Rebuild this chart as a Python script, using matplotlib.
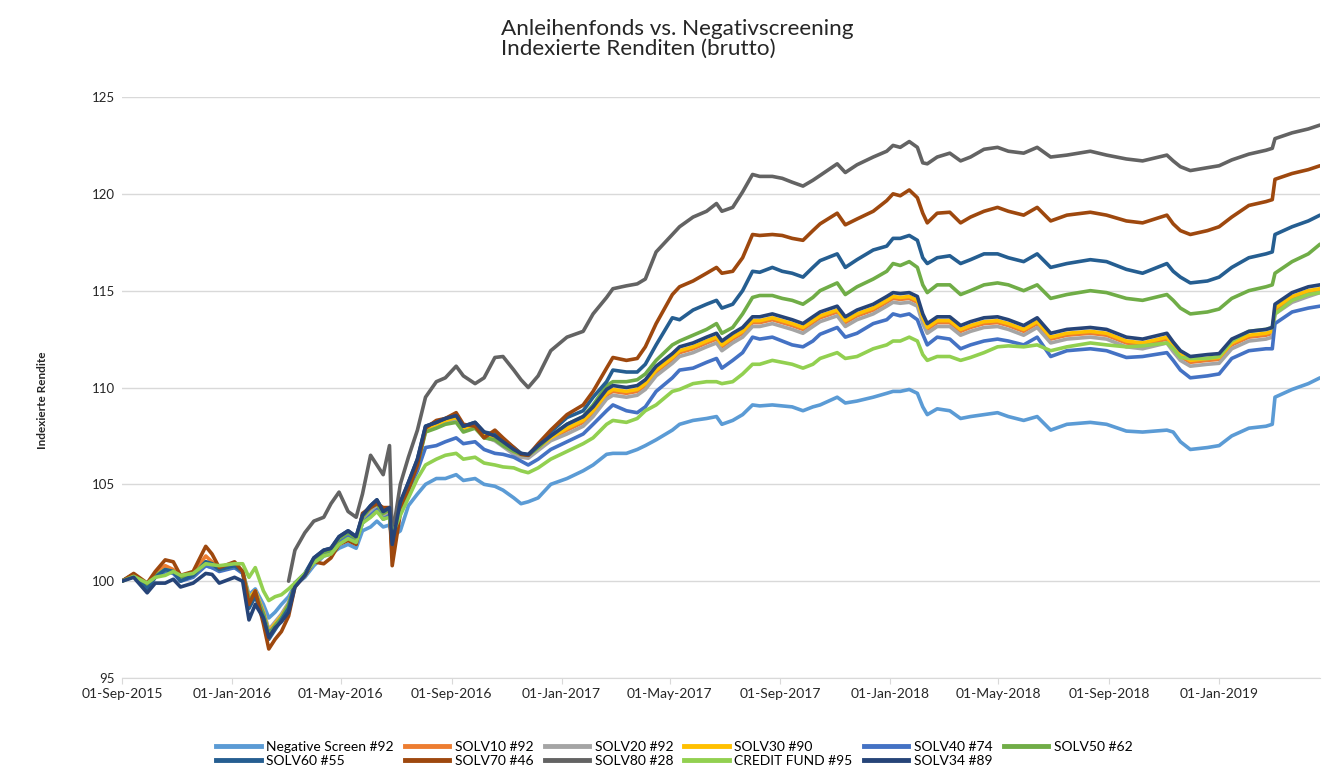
import numpy as np
import pandas as pd
import matplotlib
matplotlib.use("Agg")
import matplotlib.pyplot as plt
import matplotlib.dates as mdates
from matplotlib.lines import Line2D

plt.rcParams['font.family'] = ['Lato', 'DejaVu Sans']

# Stichtage (unregelmaessig)
dates = pd.to_datetime([
    "2015-09-01", "2015-09-14", "2015-09-29", "2015-10-08", "2015-10-19", "2015-10-28", "2015-11-05", "2015-11-19", "2015-12-03", "2015-12-10", "2015-12-18",
    "2016-01-04", "2016-01-13", "2016-01-20", "2016-01-27", "2016-02-05", "2016-02-11", "2016-02-18", "2016-02-25", "2016-03-04", "2016-03-11", "2016-03-22",
    "2016-04-01", "2016-04-12", "2016-04-20", "2016-04-29", "2016-05-09", "2016-05-18", "2016-05-25", "2016-06-03", "2016-06-10", "2016-06-17",
    "2016-06-24", "2016-06-27", "2016-07-06", "2016-07-15", "2016-07-25", "2016-08-03", "2016-08-15", "2016-08-25", "2016-09-06", "2016-09-14",
    "2016-09-27", "2016-10-07", "2016-10-19", "2016-10-28", "2016-11-09", "2016-11-17", "2016-11-25", "2016-12-06", "2016-12-20",
    "2017-01-07", "2017-01-25", "2017-02-05", "2017-02-20", "2017-02-27", "2017-03-14", "2017-03-26", "2017-04-04", "2017-04-16", "2017-05-04",
    "2017-05-12", "2017-05-27", "2017-06-11", "2017-06-22", "2017-06-28", "2017-07-10", "2017-07-21", "2017-08-01", "2017-08-09", "2017-08-23",
    "2017-09-03", "2017-09-14", "2017-09-26", "2017-10-07", "2017-10-15", "2017-11-03", "2017-11-12", "2017-11-25", "2017-12-13", "2017-12-28",
    "2018-01-04", "2018-01-12", "2018-01-22", "2018-01-31", "2018-02-06", "2018-02-11", "2018-02-22", "2018-03-08", "2018-03-20", "2018-03-31",
    "2018-04-15", "2018-04-30", "2018-05-12", "2018-05-29", "2018-06-13", "2018-06-28", "2018-07-16", "2018-08-11", "2018-08-29", "2018-09-20",
    "2018-10-08", "2018-11-04", "2018-11-11", "2018-11-19", "2018-11-30", "2018-12-19",
    "2019-01-01", "2019-01-15", "2019-02-03", "2019-02-22", "2019-03-01", "2019-03-04", "2019-03-23", "2019-04-10", "2019-04-23",
])

neg_screen = [
    100.0, 100.3, 99.8, 100.3, 100.5, 100.5, 100.1, 100.3, 100.8, 100.7, 100.6,
    100.7, 100.5, 99.3, 99.6, 98.8, 98.1, 98.4, 98.8, 99.2, 99.8, 100.2,
    100.8, 101.3, 101.4, 101.7, 101.9, 101.7, 102.6, 102.8, 103.1, 102.8,
    102.9, 102.3, 102.6, 103.9, 104.5, 105.0, 105.3, 105.3, 105.5, 105.2,
    105.3, 105.0, 104.9, 104.7, 104.3, 104.0, 104.1, 104.3, 105.0,
    105.3, 105.7, 106.0, 106.55, 106.6, 106.6, 106.8, 107.0, 107.3, 107.8,
    108.1, 108.3, 108.4, 108.5, 108.1, 108.3, 108.6, 109.1, 109.05, 109.1,
    109.05, 109.0, 108.8, 109.0, 109.1, 109.5, 109.2, 109.3, 109.5, 109.7,
    109.8, 109.8, 109.9, 109.7, 109.0, 108.6, 108.9, 108.8, 108.4, 108.5,
    108.6, 108.7, 108.5, 108.3, 108.5, 107.8, 108.1, 108.2, 108.1, 107.75,
    107.7, 107.8, 107.7, 107.2, 106.8, 106.9,
    107.0, 107.5, 107.9, 108.0, 108.1, 109.5, 109.9, 110.2, 110.5,
]

solv10 = [
    100.0, 100.35, 99.8, 100.4, 100.8, 100.6, 100.2, 100.4, 101.3, 101.0, 100.7,
    100.8, 100.5, 99.1, 99.5, 98.4, 97.3, 97.8, 98.2, 98.8, 99.9, 100.3,
    101.05, 101.45, 101.55, 102.15, 102.45, 102.15, 103.3, 103.75, 104.05, 103.5,
    103.65, 101.3, 103.95, 104.95, 106.15, 107.85, 108.05, 108.25, 108.4, 107.85,
    108.05, 107.55, 107.35, 107.05, 106.65, 106.5, 106.45, 106.85, 107.35,
    107.8, 108.2, 108.7, 109.6, 109.8, 109.7, 109.8, 110.1, 110.8, 111.45,
    111.8, 112.0, 112.3, 112.5, 112.1, 112.5, 112.8, 113.35, 113.35, 113.5,
    113.35, 113.2, 113.0, 113.35, 113.6, 113.9, 113.35, 113.7, 114.0, 114.4,
    114.6, 114.55, 114.6, 114.4, 113.5, 113.0, 113.35, 113.35, 112.9, 113.1,
    113.3, 113.35, 113.2, 112.9, 113.3, 112.5, 112.7, 112.8, 112.7, 112.3,
    112.2, 112.5, 112.05, 111.6, 111.3, 111.4,
    111.45, 112.2, 112.6, 112.7, 112.8, 114.0, 114.6, 114.9, 115.0,
]

solv20 = [
    100.0, 100.3, 99.8, 100.3, 100.6, 100.5, 100.1, 100.3, 100.9, 100.8, 100.6,
    100.8, 100.5, 99.1, 99.5, 98.5, 97.5, 97.9, 98.3, 98.9, 99.8, 100.3,
    100.95, 101.35, 101.45, 102.05, 102.35, 102.05, 103.15, 103.65, 103.95, 103.35,
    103.55, 101.9, 103.85, 104.85, 106.05, 107.75, 107.95, 108.15, 108.3, 107.75,
    107.95, 107.45, 107.25, 106.95, 106.55, 106.4, 106.35, 106.75, 107.25,
    107.6, 108.0, 108.5, 109.4, 109.6, 109.5, 109.6, 109.9, 110.6, 111.25,
    111.6, 111.8, 112.1, 112.3, 111.9, 112.3, 112.6, 113.15, 113.15, 113.3,
    113.15, 113.0, 112.8, 113.15, 113.4, 113.7, 113.15, 113.5, 113.8, 114.2,
    114.4, 114.35, 114.4, 114.2, 113.3, 112.8, 113.15, 113.15, 112.7, 112.9,
    113.1, 113.15, 113.0, 112.7, 113.1, 112.3, 112.5, 112.6, 112.5, 112.1,
    112.0, 112.3, 111.85, 111.4, 111.1, 111.2,
    111.25, 112.0, 112.4, 112.5, 112.6, 113.8, 114.4, 114.7, 114.9,
]

solv30 = [
    100.0, 100.3, 99.75, 100.3, 100.6, 100.5, 100.1, 100.3, 100.9, 100.8, 100.6,
    100.8, 100.5, 99.1, 99.5, 98.4, 97.4, 97.8, 98.2, 98.8, 99.8, 100.3,
    101.1, 101.5, 101.6, 102.2, 102.5, 102.2, 103.3, 103.8, 104.1, 103.5,
    103.7, 102.0, 104.0, 105.0, 106.2, 107.9, 108.1, 108.3, 108.45, 107.9,
    108.1, 107.6, 107.4, 107.1, 106.7, 106.55, 106.5, 106.9, 107.4,
    107.9, 108.3, 108.8, 109.7, 109.9, 109.8, 109.9, 110.2, 110.9, 111.55,
    111.9, 112.1, 112.4, 112.6, 112.2, 112.6, 112.9, 113.45, 113.45, 113.6,
    113.45, 113.3, 113.1, 113.45, 113.7, 114.0, 113.45, 113.8, 114.1, 114.5,
    114.7, 114.65, 114.7, 114.5, 113.6, 113.1, 113.45, 113.45, 113.0, 113.2,
    113.4, 113.45, 113.3, 113.0, 113.4, 112.6, 112.8, 112.9, 112.8, 112.4,
    112.3, 112.6, 112.15, 111.7, 111.4, 111.5,
    111.55, 112.3, 112.7, 112.8, 112.9, 114.1, 114.7, 115.0, 115.1,
]

solv40 = [
    100.0, 100.3, 99.7, 100.2, 100.5, 100.4, 100.0, 100.2, 100.8, 100.7, 100.5,
    100.7, 100.4, 99.0, 99.4, 98.3, 97.3, 97.7, 98.1, 98.7, 99.8, 100.3,
    101.0, 101.4, 101.5, 102.0, 102.3, 102.0, 103.0, 103.4, 103.7, 103.2,
    103.4, 101.9, 103.6, 104.7, 105.7, 106.9, 107.0, 107.2, 107.4, 107.1,
    107.2, 106.8, 106.6, 106.55, 106.4, 106.2, 106.0, 106.3, 106.8,
    107.2, 107.6, 108.1, 108.8, 109.1, 108.8, 108.7, 109.0, 109.8, 110.5,
    110.9, 111.0, 111.3, 111.5, 111.0, 111.4, 111.8, 112.6, 112.5, 112.6,
    112.4, 112.2, 112.1, 112.4, 112.75, 113.1, 112.6, 112.8, 113.3, 113.5,
    113.8, 113.7, 113.8, 113.5, 112.75, 112.2, 112.6, 112.5, 112.0, 112.2,
    112.4, 112.5, 112.4, 112.2, 112.6, 111.6, 111.9, 112.0, 111.9, 111.55,
    111.6, 111.8, 111.4, 110.9, 110.5, 110.6,
    110.7, 111.5, 111.9, 112.0, 112.0, 113.3, 113.9, 114.1, 114.2,
]

solv50 = [
    100.0, 100.35, 99.7, 100.3, 100.6, 100.5, 100.1, 100.3, 101.0, 100.9, 100.6,
    100.8, 100.5, 99.0, 99.4, 98.3, 97.2, 97.7, 98.1, 98.8, 99.9, 100.3,
    101.1, 101.5, 101.6, 102.2, 102.5, 102.2, 103.3, 103.8, 104.0, 103.5,
    103.7, 101.9, 103.9, 104.9, 106.0, 107.7, 107.9, 108.1, 108.2, 107.7,
    107.9, 107.4, 107.3, 107.0, 106.7, 106.55, 106.5, 106.9, 107.5,
    108.1, 108.5, 109.1, 110.1, 110.3, 110.3, 110.4, 110.7, 111.4, 112.2,
    112.4, 112.7, 113.0, 113.3, 112.8, 113.1, 113.8, 114.65, 114.75, 114.75,
    114.6, 114.5, 114.3, 114.65, 115.0, 115.4, 114.8, 115.2, 115.6, 116.0,
    116.4, 116.3, 116.5, 116.2, 115.3, 114.9, 115.3, 115.3, 114.8, 115.0,
    115.3, 115.4, 115.3, 115.0, 115.3, 114.6, 114.8, 115.0, 114.9, 114.6,
    114.5, 114.8, 114.5, 114.1, 113.8, 113.9,
    114.05, 114.6, 115.0, 115.2, 115.3, 115.9, 116.5, 116.9, 117.4,
]

solv60 = [
    100.0, 100.35, 99.6, 100.2, 100.6, 100.5, 100.0, 100.3, 101.0, 100.9, 100.6,
    100.8, 100.5, 98.6, 99.2, 98.1, 97.0, 97.5, 98.0, 98.6, 99.9, 100.4,
    101.2, 101.6, 101.7, 102.3, 102.6, 102.3, 103.4, 103.9, 104.2, 103.6,
    103.8, 101.6, 104.0, 105.1, 106.3, 108.0, 108.2, 108.4, 108.6, 108.0,
    108.2, 107.7, 107.6, 107.3, 106.9, 106.6, 106.5, 107.0, 107.7,
    108.45, 108.8, 109.5, 110.3, 110.9, 110.8, 110.8, 111.2, 112.2, 113.6,
    113.5, 114.0, 114.3, 114.5, 114.1, 114.3, 115.0, 116.0, 115.95, 116.2,
    116.0, 115.9, 115.7, 116.2, 116.55, 116.9, 116.2, 116.6, 117.1, 117.3,
    117.7, 117.7, 117.85, 117.6, 116.7, 116.4, 116.7, 116.8, 116.4, 116.6,
    116.9, 116.9, 116.7, 116.5, 116.9, 116.2, 116.4, 116.6, 116.5, 116.1,
    115.9, 116.4, 116.0, 115.7, 115.4, 115.5,
    115.7, 116.2, 116.7, 116.9, 117.0, 117.9, 118.3, 118.6, 118.9,
]

solv70 = [
    100.0, 100.4, 99.9, 100.5, 101.1, 101.0, 100.3, 100.5, 101.8, 101.4, 100.7,
    101.0, 100.5, 98.8, 99.5, 97.8, 96.5, 97.0, 97.4, 98.2, 99.7, 100.3,
    101.0, 100.9, 101.2, 101.9, 102.1, 101.9, 103.5, 103.8, 104.0, 103.8,
    103.8, 100.8, 103.5, 104.7, 106.0, 107.9, 108.3, 108.4, 108.7, 108.1,
    108.0, 107.4, 107.8, 107.4, 106.9, 106.55, 106.5, 107.1, 107.8,
    108.6, 109.1, 109.8, 111.0, 111.55, 111.4, 111.5, 112.1, 113.3, 114.8,
    115.2, 115.5, 115.9, 116.2, 115.9, 116.0, 116.7, 117.9, 117.85, 117.9,
    117.85, 117.7, 117.6, 118.1, 118.45, 119.0, 118.4, 118.7, 119.1, 119.65,
    120.0, 119.9, 120.2, 119.8, 119.0, 118.5, 119.0, 119.05, 118.5, 118.8,
    119.1, 119.3, 119.1, 118.9, 119.3, 118.6, 118.9, 119.05, 118.9, 118.6,
    118.5, 118.9, 118.45, 118.1, 117.9, 118.1,
    118.3, 118.8, 119.4, 119.6, 119.7, 120.75, 121.05, 121.25, 121.45,
]

# SOLV80 startet erst im Maerz 2016
solv80 = [
    None, None, None, None, None, None, None, None, None, None, None,
    None, None, None, None, None, None, None, None, 100.0, 101.6, 102.5,
    103.1, 103.3, 104.0, 104.6, 103.6, 103.3, 104.5, 106.5, 106.0, 105.5,
    107.0, 102.3, 105.0, 106.4, 107.8, 109.5, 110.3, 110.5, 111.1, 110.6,
    110.2, 110.5, 111.55, 111.6, 110.9, 110.4, 110.0, 110.6, 111.9,
    112.6, 112.9, 113.8, 114.65, 115.1, 115.25, 115.35, 115.6, 117.0, 117.9,
    118.3, 118.8, 119.1, 119.5, 119.1, 119.3, 120.1, 121.0, 120.9, 120.9,
    120.8, 120.6, 120.4, 120.7, 120.95, 121.55, 121.1, 121.5, 121.9, 122.2,
    122.5, 122.4, 122.7, 122.4, 121.6, 121.55, 121.9, 122.1, 121.7, 121.9,
    122.3, 122.4, 122.2, 122.1, 122.4, 121.9, 122.0, 122.2, 122.0, 121.8,
    121.7, 122.0, 121.7, 121.4, 121.2, 121.35,
    121.45, 121.75, 122.05, 122.25, 122.35, 122.85, 123.15, 123.35, 123.55,
]

credit_fund = [
    100.0, 100.25, 99.9, 100.2, 100.3, 100.5, 100.3, 100.4, 100.9, 100.85, 100.8,
    100.9, 100.9, 100.2, 100.7, 99.5, 99.0, 99.2, 99.3, 99.6, 99.9, 100.4,
    100.95, 101.3, 101.4, 101.9, 102.2, 102.0, 103.0, 103.3, 103.6, 103.2,
    103.3, 102.4, 103.4, 104.3, 105.3, 106.0, 106.3, 106.5, 106.6, 106.3,
    106.4, 106.1, 106.0, 105.9, 105.85, 105.7, 105.6, 105.85, 106.3,
    106.7, 107.1, 107.4, 108.1, 108.3, 108.2, 108.4, 108.8, 109.1, 109.8,
    109.9, 110.2, 110.3, 110.3, 110.2, 110.3, 110.7, 111.2, 111.2, 111.4,
    111.3, 111.2, 111.0, 111.2, 111.5, 111.8, 111.5, 111.6, 112.0, 112.2,
    112.4, 112.4, 112.6, 112.4, 111.7, 111.4, 111.6, 111.6, 111.4, 111.55,
    111.8, 112.1, 112.15, 112.1, 112.2, 111.9, 112.1, 112.3, 112.2, 112.1,
    112.15, 112.3, 112.0, 111.55, 111.5, 111.5,
    111.6, 112.4, 112.9, 113.0, 113.1, 113.8, 114.5, 114.8, 114.9,
]

solv34 = [
    100.0, 100.2, 99.4, 99.9, 99.9, 100.1, 99.7, 99.9, 100.4, 100.35, 99.9,
    100.2, 100.0, 98.0, 98.8, 98.1, 97.1, 97.6, 97.9, 98.4, 99.7, 100.3,
    101.2, 101.6, 101.7, 102.3, 102.6, 102.3, 103.4, 103.9, 104.2, 103.6,
    103.8, 101.9, 104.1, 105.1, 106.3, 108.0, 108.2, 108.4, 108.55, 108.0,
    108.2, 107.7, 107.5, 107.2, 106.8, 106.6, 106.55, 107.0, 107.5,
    108.1, 108.5, 109.0, 109.9, 110.1, 110.0, 110.1, 110.4, 111.1, 111.75,
    112.1, 112.3, 112.6, 112.8, 112.4, 112.8, 113.1, 113.65, 113.65, 113.8,
    113.65, 113.5, 113.3, 113.65, 113.9, 114.2, 113.65, 114.0, 114.3, 114.7,
    114.9, 114.85, 114.9, 114.7, 113.8, 113.3, 113.65, 113.65, 113.2, 113.4,
    113.6, 113.65, 113.5, 113.2, 113.6, 112.8, 113.0, 113.1, 113.0, 112.6,
    112.5, 112.8, 112.35, 111.9, 111.6, 111.7,
    111.75, 112.5, 112.9, 113.0, 113.1, 114.3, 114.9, 115.2, 115.3,
]

labels = ["Negative Screen #92", "SOLV10 #92", "SOLV20 #92", "SOLV30 #90", "SOLV40 #74", "SOLV50 #62",
          "SOLV60 #55", "SOLV70 #46", "SOLV80 #28", "CREDIT FUND #95", "SOLV34 #89"]
values = [neg_screen, solv10, solv20, solv30, solv40, solv50, solv60, solv70, solv80, credit_fund, solv34]
colors = ["#5B9BD5", "#ED7D31", "#A5A5A5", "#FFC000", "#4472C4", "#70AD47",
          "#255E91", "#9E480E", "#636363", "#92D050", "#264478"]

for v in values:
    assert len(v) == len(dates), (len(v), len(dates))

fig = plt.figure(figsize=(13.3, 7.71), dpi=100)
ax = fig.add_axes([0.0917, 0.1206, 0.9008, 0.7536])

for lab, v, c in zip(labels, values, colors):
    ax.plot(dates, np.array(v, dtype=float), color=c, lw=2.6, label=lab,
            solid_joinstyle='round', solid_capstyle='round')

ax.set_ylim(95, 125)
ax.set_yticks(range(95, 126, 5))
ax.set_xlim(dates[0], dates[-1])
ax.xaxis.set_major_locator(mdates.MonthLocator(bymonth=[1, 5, 9], bymonthday=1))
ax.xaxis.set_major_formatter(mdates.DateFormatter('%d-%b-%Y'))
ax.grid(axis='y', color='#D9D9D9', lw=1)
ax.set_axisbelow(True)
for s in ['top', 'right', 'left']:
    ax.spines[s].set_visible(False)
ax.spines['bottom'].set_color('#D9D9D9')
ax.tick_params(axis='y', length=0, pad=5, labelsize=9.5, labelcolor='#262626')
ax.tick_params(axis='x', length=4, color='#D9D9D9', pad=3, labelsize=10, labelcolor='#262626')

fig.text(0.509, 0.950, "Anleihenfonds vs. Negativscreening\nIndexierte Renditen (brutto)",
         ha='center', va='center', multialignment='left', fontsize=16.2, linespacing=1.0, color='#262626')
fig.text(0.0316, 0.481, "Indexierte Rendite", rotation=90, ha='center', va='center',
         fontsize=8.5, fontweight='bold', color='#262626')

# Legende zeilenweise wie im Original (matplotlib fuellt spaltenweise)
order = [0, 6, 1, 7, 2, 8, 3, 9, 4, 10, 5]
handles = [Line2D([], [], color=colors[i], lw=3.5) for i in order]
fig.legend(handles, [labels[i] for i in order], loc='center', bbox_to_anchor=(0.507, 0.022),
           ncol=6, frameon=False, fontsize=10, handlelength=3.2, handletextpad=0.4,
           columnspacing=0.8, labelspacing=0.15)

fig.savefig("out.png", dpi=100)
